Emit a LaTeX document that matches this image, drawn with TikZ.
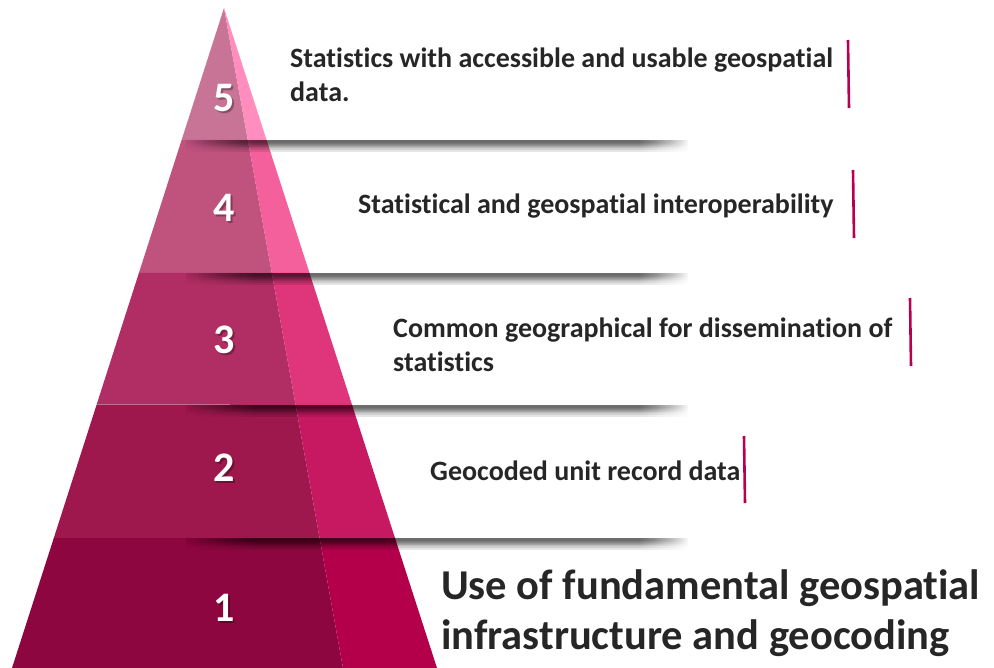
\documentclass[tikz,border=0pt]{standalone}
\usepackage{fontspec}
\setmainfont{Carlito}[Ligatures={NoCommon}]
\usetikzlibrary{calc,fadings}
\definecolor{fiveL}{HTML}{C87496}
\definecolor{fiveR}{HTML}{FF8EBE}
\definecolor{fourL}{HTML}{C0527E}
\definecolor{fourR}{HTML}{F3609B}
\definecolor{threeL}{HTML}{B02E63}
\definecolor{threeR}{HTML}{DE357B}
\definecolor{twoL}{HTML}{9E184E}
\definecolor{twoR}{HTML}{C71862}
\definecolor{oneL}{HTML}{8E063F}
\definecolor{oneR}{HTML}{B4004B}
\definecolor{txtgray}{HTML}{262626}
\definecolor{barred}{HTML}{B8004F}
\pgfdeclarehorizontalshading{shfadeshading}{100bp}{color(0bp)=(black); color(25bp)=(black); color(32bp)=(white); color(70bp)=(white); color(75bp)=(black); color(100bp)=(black)}
\pgfdeclarefading{shfade}{\pgfuseshading{shfadeshading}}
\begin{document}
\begin{tikzpicture}[x=1pt,y=-1pt,
  txt/.style={anchor=west, align=left, inner sep=0pt, text=txtgray, font=\bfseries\fontsize{28}{34}\selectfont},
  bigtxt/.style={anchor=west, align=left, inner sep=0pt, text=txtgray, font=\bfseries\fontsize{42.5}{50}\selectfont},
  num/.style={text=white, inner sep=0pt, font=\bfseries\fontsize{42}{42}\selectfont},
  numsh/.style={text=black, opacity=0.3, inner sep=0pt, font=\bfseries\fontsize{42}{42}\selectfont},
  vbar/.style={draw=barred, line width=2.6pt},
  shlayer/.style={fill=black, opacity=0.1, path fading=shfade}
]
\useasboundingbox (0,0) rectangle (994,668);
% pyramid
\coordinate (A) at (224,8);
\fill[fiveL] (A) -- (181.6,140) -- (247.8,140) -- cycle;
\fill[fiveR] (A) -- (247.8,140) -- (266.6,140) -- cycle;
\fill[fourL] (181.6,140) -- (138.9,273) -- (271.8,273) -- (247.8,140) -- cycle;
\fill[fourR] (247.8,140) -- (271.8,273) -- (309.5,273) -- (266.6,140) -- cycle;
\fill[threeL] (138.9,273) -- (96.5,405) -- (295.6,405) -- (271.8,273) -- cycle;
\fill[threeR] (271.8,273) -- (295.6,405) -- (352.1,405) -- (309.5,273) -- cycle;
\fill[twoL] (96.5,405) -- (53.8,538) -- (319.6,538) -- (295.6,405) -- cycle;
\fill[twoR] (295.6,405) -- (319.6,538) -- (395.0,538) -- (352.1,405) -- cycle;
\fill[oneL] (53.8,538) -- (12,668) -- (343,668) -- (319.6,538) -- cycle;
\fill[oneR] (319.6,538) -- (343,668) -- (437,668) -- (395.0,538) -- cycle;
\draw[white, opacity=0.3, line width=1pt] (96.5,405) -- (230,405);
% shadows
\foreach \b in {140,273,405,538}{
  \foreach \h in {3,4,5,6,7,8,10,12}{
    \fill[shlayer] (185,\b) rectangle (688,\b+\h);
  }
}
% numbers
\foreach \n/\y in {5/98,4/208,3/340,2/468,1/608}{
  \node[numsh] (s\n) at (225.8,\y+1.8) {\n};
  \node[num] (n\n) at (224,\y) {\n};
}
% texts
\node[txt] (t5) at (290,75) {Statistics with accessible and usable geospatial\\data.};
\node[txt] (t4) at (358,206) {Statistical and geospatial interoperability};
\node[txt] (t3) at (393,344.5) {Common geographical for dissemination of\\statistics};
\node[txt] (t2) at (430,471) {Geocoded unit record data};
\node[bigtxt] (t1) at (441,613) {Use of fundamental geospatial\\infrastructure and geocoding};
% bars
\coordinate (b5a) at (848,40);  \coordinate (b5b) at (849,108);
\coordinate (b4a) at (853,170); \coordinate (b4b) at (854,238);
\coordinate (b3a) at (910,298); \coordinate (b3b) at (911,366);
\coordinate (b2a) at (744,436); \coordinate (b2b) at (745,503);
\draw[vbar] (b5a) -- (b5b);
\draw[vbar] (b4a) -- (b4b);
\draw[vbar] (b3a) -- (b3b);
\draw[vbar] (b2a) -- (b2b);
\end{tikzpicture}
\end{document}
